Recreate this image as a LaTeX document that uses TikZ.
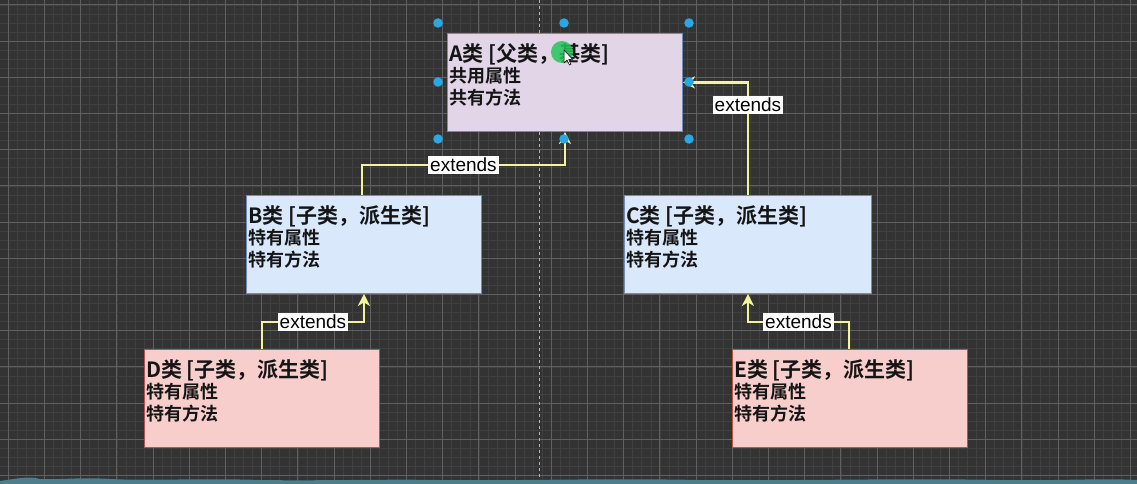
\documentclass[tikz,border=0pt]{standalone}
\usepackage{fontspec}
\setmainfont{Noto Sans CJK SC}[BoldFont={Noto Sans CJK SC Bold}]
\newfontfamily\lblfont{Liberation Sans}
\usetikzlibrary{arrows.meta,calc}
\definecolor{bgc}{HTML}{333333}
\definecolor{minorc}{HTML}{404040}
\definecolor{majorc}{HTML}{606060}
\definecolor{purplef}{HTML}{E1D5E7}
\definecolor{bluef}{HTML}{DAE8FC}
\definecolor{blues}{HTML}{6C8EBF}
\definecolor{redf}{HTML}{F8CECC}
\definecolor{reds}{HTML}{B85450}
\definecolor{connc}{HTML}{F4F49A}
\definecolor{handlec}{HTML}{29A8E6}
\definecolor{txtc}{HTML}{151515}
\definecolor{wavec}{HTML}{4C7E8C}
\definecolor{cursorc}{HTML}{22C55A}
\tikzset{
  classbox/.style={draw, line width=0.9pt, minimum width=235, minimum height=98, inner sep=0pt, anchor=north west},
  boxtext/.style={anchor=north west, inner sep=0pt, align=left, text=txtc, font=\fontsize{18}{21.5}\selectfont\bfseries},
  conn/.style={draw=connc, line width=2.8pt, -{Stealth[length=12pt,width=12pt,inset=3.5pt]}},
  lbl/.style={fill=white, text=black, inner xsep=2pt, inner ysep=2pt, font=\lblfont\fontsize{19}{19}\selectfont},
  handle/.style={fill=handlec, draw=none, circle, minimum size=9.5pt, inner sep=0pt},
}
\newcommand{\ttl}[1]{{\fontsize{21}{24}\selectfont #1}}
\begin{document}
\begin{tikzpicture}[x=1pt,y=-1pt]
\fill[bgc] (0,0) rectangle (1137,484);
\useasboundingbox (0,0) rectangle (1137,484);
% grid
\foreach \i in {-1,...,126} {\draw[minorc, line width=0.7pt] ({8.3+\i*9.05},0) -- ++(0,484);}
\foreach \i in {-1,...,54} {\draw[minorc, line width=0.7pt] (0,{4.9+\i*9.05}) -- ++(1137,0);}
\foreach \i in {0,...,31} {\draw[majorc, line width=1pt] ({8.3+\i*36.2},0) -- ++(0,484);}
\foreach \i in {0,...,13} {\draw[majorc, line width=1pt] (0,{4.9+\i*36.2}) -- ++(1137,0);}
\draw[gray!60, dashed, line width=0.7pt] (539.5,0) -- (539.5,484);
% boxes
\node[classbox, fill=purplef, draw=blues] (A) at (447,33) {};
\node[classbox, fill=bluef, draw=blues] (B) at (246,195) {};
\node[classbox, fill=bluef, draw=blues, minimum width=247] (C) at (624,195) {};
\node[classbox, fill=redf, draw=reds] (D) at (144,349) {};
\node[classbox, fill=redf, draw=reds] (E) at (732,349) {};
\node[boxtext] (At) at ($(A.north west)+(2,10)$) {\ttl{A类 [父类，基类]}\\共用属性\\共有方法};
\node[boxtext] (Bt) at ($(B.north west)+(2,10)$) {\ttl{B类 [子类，派生类]}\\特有属性\\特有方法};
\node[boxtext] (Ct) at ($(C.north west)+(2,10)$) {\ttl{C类 [子类，派生类]}\\特有属性\\特有方法};
\node[boxtext] (Dt) at ($(D.north west)+(2,10)$) {\ttl{D类 [子类，派生类]}\\特有属性\\特有方法};
\node[boxtext] (Et) at ($(E.north west)+(2,10)$) {\ttl{E类 [子类，派生类]}\\特有属性\\特有方法};
% connectors
\coordinate (Btop) at ($(B.north west)+(116,0)$);
\coordinate (Dtop) at ($(D.north west)+(118,0)$);
\coordinate (Etop) at ($(E.north west)+(117,0)$);
\draw[conn] (Btop) -- ++(0,-30) -| node[lbl, pos=0.25] {extends} (A.south);
\draw[conn] (C.north) |- node[lbl, pos=0.4] {extends} (A.east);
\draw[conn] (Dtop) -- ++(0,-27) -| node[lbl, pos=0.25] {extends} (B.south);
\draw[conn] (Etop) -- ++(0,-27) -| node[lbl, pos=0.25] {extends} (C.south);
% selection handles
\foreach \x/\y/\n in {438/23/h1,564/23/h2,689/23/h3,438/82/h4,689/82/h5,438/139/h6,564/139/h7,689/139/h8} {
  \node[handle] (\n) at (\x,\y) {};
}
% cursor
\node[circle, fill=cursorc, minimum size=22pt, inner sep=0pt, opacity=0.85] (cur) at (562,52) {};
\draw[fill=white, draw=black, line width=0.5pt] (564,50) -- (564,63) -- (567,60) -- (569.5,65) -- (571,64.3) -- (568.7,59.5) -- (572.5,59.3) -- cycle;
% bottom waveform
\fill[wavec] (0,484) -- (0,481) .. controls (20,478) and (30,476) .. (40,479) .. controls (60,480) and (80,477) .. (110,479)
  .. controls (150,481) and (200,478) .. (260,480) .. controls (320,481) and (380,479) .. (440,480)
  .. controls (520,481) and (600,478) .. (700,480) .. controls (800,481) and (900,478) .. (1000,480)
  .. controls (1060,481) and (1100,478) .. (1137,480) -- (1137,484) -- cycle;
\end{tikzpicture}
\end{document}
